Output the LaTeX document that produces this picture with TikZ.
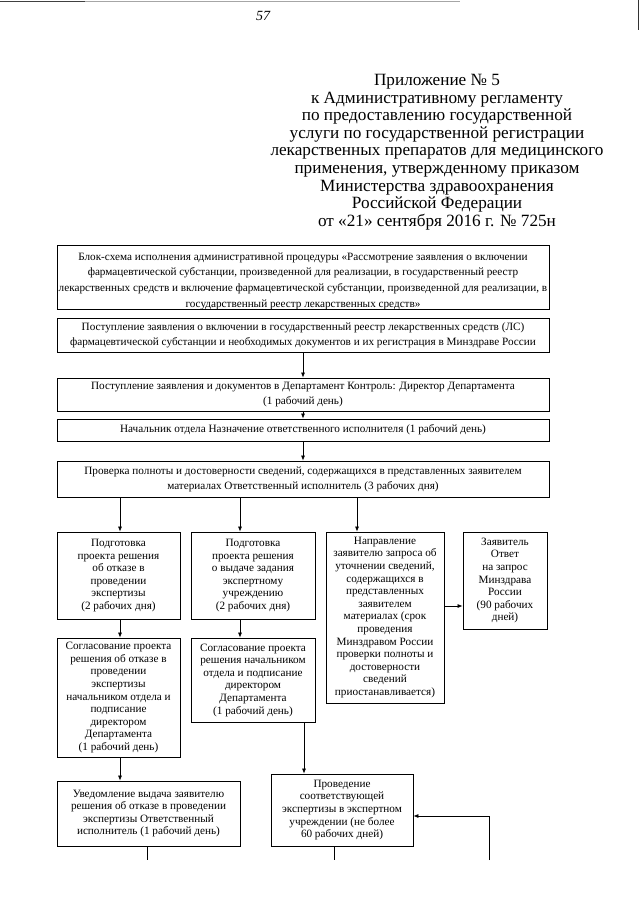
\documentclass[tikz,border=0pt]{standalone}
\usepackage{fontspec}
\setmainfont{Liberation Serif}
\usetikzlibrary{arrows.meta,calc}
\begin{document}
\begin{tikzpicture}[x=1pt,y=-1pt,
  box/.style={draw, line width=0.8pt, inner sep=0pt, align=center, font=\fontsize{11.2}{12.6}\selectfont},
  wide/.style={box, font=\fontsize{11.2}{15.2}\selectfont},
  plain/.style={inner sep=0pt, align=center},
  arr/.style={line width=0.7pt, -{Latex[length=5pt,width=4pt]}},
  ln/.style={line width=0.7pt}]
\useasboundingbox (0,0) rectangle (640,905);
\fill[white] (0,0) rectangle (640,905);
% scan edge
\draw[black!75, line width=1pt] (0,1.2) -- (85,1.2);
\draw[black!35, line width=0.8pt] (85,1.2) -- (460,1.2);
\draw[black!80, line width=1pt] (638.5,0) -- (638.5,30);
% page number
\node[font=\itshape\fontsize{14}{14}\selectfont, inner sep=0pt] (pg) at (263,16) {57};
% header
\node[plain, font=\fontsize{17.2}{17.6}\selectfont, anchor=north] (hdr) at (437,74) {%
Приложение № 5\\
к Административному регламенту\\
по предоставлению государственной\\
услуги по государственной регистрации\\
лекарственных препаратов для медицинского\\
применения, утвержденному приказом\\
Министерства здравоохранения\\
Российской Федерации\\
от «21» сентября 2016 г. № 725н};
% boxes
\node[box, minimum width=492, minimum height=64] (b1) at (303,277) {};
\node[plain, font=\fontsize{11.2}{15.6}\selectfont] (b1t) at ([yshift=-4pt]b1.center) {%
Блок-схема исполнения административной процедуры «Рассмотрение заявления о включении\\
фармацевтической субстанции, произведенной для реализации, в государственный реестр\\
лекарственных средств и включение фармацевтической субстанции, произведенной для реализации, в\\
государственный реестр лекарственных средств»};
\node[wide, minimum width=492, minimum height=34] (b2) at (303,335) {%
Поступление заявления о включении в государственный реестр лекарственных средств (ЛС)\\
фармацевтической субстанции и необходимых документов и их регистрация в Минздраве России};
\node[wide, minimum width=492, minimum height=33] (b3) at (303,394.5) {%
Поступление заявления и документов в Департамент Контроль: Директор Департамента\\
(1 рабочий день)};
\node[wide, minimum width=492, minimum height=22] (b4) at (303,430) {%
Начальник отдела Назначение ответственного исполнителя (1 рабочий день)};
\node[wide, minimum width=492, minimum height=36] (b5) at (303,479) {%
Проверка полноты и достоверности сведений, содержащихся в представленных заявителем\\
материалах Ответственный исполнитель (3 рабочих дня)};
\node[box, minimum width=123, minimum height=87] (b6) at (118.5,575.5) {%
Подготовка\\ проекта решения\\ об отказе в\\ проведении\\ экспертизы\\ (2 рабочих дня)};
\node[box, minimum width=124, minimum height=87] (b7) at (253,575.5) {%
Подготовка\\ проекта решения\\ о выдаче задания\\ экспертному\\ учреждению\\ (2 рабочих дня)};
\node[box, minimum width=118, minimum height=171] (b8) at (385,617.5) {%
Направление\\ заявителю запроса об\\ уточнении сведений,\\ содержащихся в\\ представленных\\ заявителем\\ материалах (срок\\ проведения\\ Минздравом России\\ проверки полноты и\\ достоверности\\ сведений\\ приостанавливается)};
\node[box, minimum width=84, minimum height=97] (b9) at (505,580.5) {%
Заявитель\\ Ответ\\ на запрос\\ Минздрава\\ России\\ (90 рабочих\\ дней)};
\node[box, minimum width=123, minimum height=119] (b10) at (118.5,697.5) {%
Согласование проекта\\ решения об отказе в\\ проведении\\ экспертизы\\ начальником отдела и\\ подписание\\ директором\\ Департамента\\ (1 рабочий день)};
\node[box, minimum width=124, minimum height=84] (b11) at (253,680) {%
Согласование проекта\\ решения начальником\\ отдела и подписание\\ директором\\ Департамента\\ (1 рабочий день)};
\node[box, minimum width=183, minimum height=65] (b12) at (148.5,813.5) {%
Уведомление выдача заявителю\\ решения об отказе в проведении\\ экспертизы Ответственный\\ исполнитель (1 рабочий день)};
\node[box, minimum width=142, minimum height=72] (b13) at (342,810) {%
Проведение\\ соответствующей\\ экспертизы в экспертном\\ учреждении (не более\\ 60 рабочих дней)};
% helper coordinates
\coordinate (k6) at (120,0);
\coordinate (k7) at (240,0);
\coordinate (k8) at (357,0);
\coordinate (k13) at (304,0);
\coordinate (k89) at (0,606);
\coordinate (lp) at (0,816);
\coordinate (loopend) at (489,860);
\coordinate (t12) at (147,860);
\coordinate (t13) at (334,860);
% connectors
\draw[arr] (b2.south) -- (b3.north);
\draw[arr] (b3.south) -- (b4.north);
\draw[arr] (b4.south) -- (b5.north);
\draw[arr] (k6 |- b5.south) -- (k6 |- b6.north);
\draw[arr] (k7 |- b5.south) -- (k7 |- b7.north);
\draw[arr] (k8 |- b5.south) -- (k8 |- b8.north);
\draw[arr] (k89 -| b8.east) -- (k89 -| b9.west);
\draw[arr] (k6 |- b6.south) -- (k6 |- b10.north);
\draw[arr] (k7 |- b7.south) -- (k7 |- b11.north);
\draw[arr] (k6 |- b10.south) -- (k6 |- b12.north);
\draw[arr] (k13 |- b11.south) -- (k13 |- b13.north);
\draw[arr] (loopend) |- (lp -| b13.east);
\draw[ln] (t12 |- b12.south) -- (t12);
\draw[ln] (t13 |- b13.south) -- (t13);
\end{tikzpicture}
\end{document}
